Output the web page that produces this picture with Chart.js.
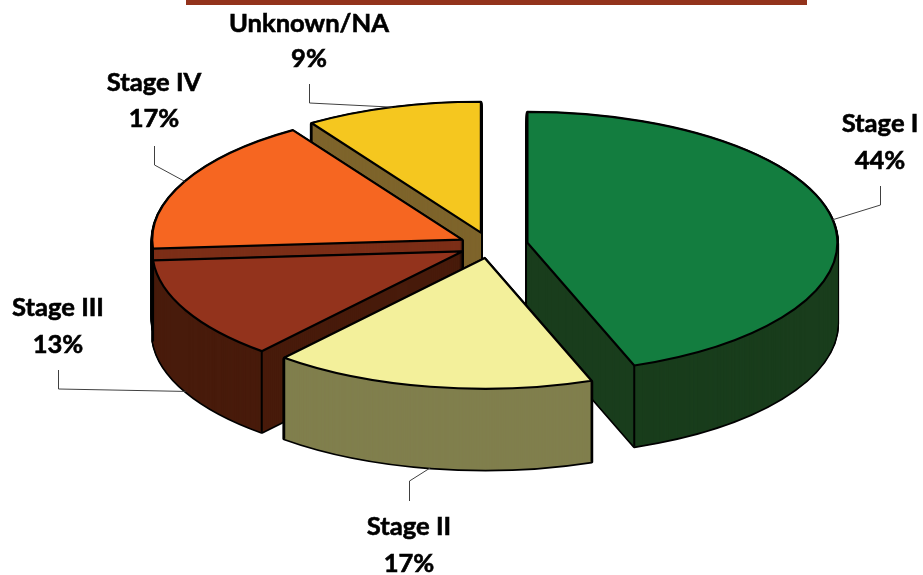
<!DOCTYPE html>
<html>
<head>
<meta charset="utf-8">
<title>Stage at diagnosis</title>
<script src="https://cdn.jsdelivr.net/npm/chart.js@4/dist/chart.umd.min.js"></script>
<style>
  html, body { margin: 0; background: #fff; }
  #wrap { position: relative; width: 923px; height: 575px; overflow: hidden; }
  #rule { position: absolute; left: 186px; top: 0; width: 621px; height: 5px; background: #93331c; }
  canvas { position: absolute; left: 0; top: 0; }
</style>
</head>
<body>
<div id="wrap">
  <canvas id="stage-chart" width="923" height="575"></canvas>
  <div id="rule"></div>
</div>
<script>
var categories = ["Stage I", "Stage II", "Stage III", "Stage IV", "Unknown/NA"];
// the labels show these rounded
var percents = [44.4, 16.8, 12.7, 16.9, 9.2];

var topColors = ["#137d3f", "#f3f09b", "#93331c", "#f66621", "#f5c71f"];
var wallColors = ["#193d1c", "#807f4d", "#481b0b", "#7c2e17", "#7e642b"];
var explode = [38, 30, 31, 31, 32];

// label block centre x, y of first line, y of second line
var labelX = [880, 409, 58, 154, 309];
var labelY1 = [124, 527, 308, 83, 24];
var labelY2 = [161, 564, 345, 119, 59];
// leader line: start just off the label, elbow
var leaderStartY = [186, 501, 370, 146, 84];
var leaderElbowY = [205, 481, 389, 165, 103];

var squash = 0.422;
var depth = 81;

function sliceShift(arc, i) {
  var mid = (arc.startAngle + arc.endAngle) / 2;
  return { x: Math.cos(mid) * explode[i], y: Math.sin(mid) * explode[i] * squash };
}

function outline(ctx, arc, shift, down) {
  var x = arc.x + shift.x, y = arc.y + shift.y + down;
  ctx.beginPath();
  ctx.moveTo(x, y);
  ctx.ellipse(x, y, arc.outerRadius, arc.outerRadius * squash, 0, arc.startAngle, arc.endAngle);
  ctx.closePath();
}

function fillArc(ctx, arc, shift, down, color) {
  var saved = arc.options;
  arc.options = Object.assign({}, saved, { backgroundColor: color, borderWidth: 0 });
  ctx.save();
  ctx.translate(shift.x, arc.y + shift.y + down);
  ctx.scale(1, squash);
  ctx.translate(0, -arc.y);
  arc.draw(ctx);
  ctx.restore();
  arc.options = saved;
}

var pie3d = {
  id: 'pie3d',
  beforeDatasetsDraw: function(chart) {
    var ctx = chart.ctx;
    var arcs = chart.getDatasetMeta(0).data;
    // paint back slices first
    var order = arcs.map(function(a, i) { return i; }).sort(function(a, b) {
      return Math.sin((arcs[a].startAngle + arcs[a].endAngle) / 2) - Math.sin((arcs[b].startAngle + arcs[b].endAngle) / 2);
    });
    ctx.save();
    ctx.lineJoin = 'round';
    ctx.strokeStyle = '#000';
    order.forEach(function(i) {
      var arc = arcs[i], shift = sliceShift(arc, i), d;
      ctx.lineWidth = 3.4;
      for (d = depth; d > 0; d--) {
        outline(ctx, arc, shift, d);
        ctx.stroke();
      }
      for (d = depth; d > 0; d--) {
        fillArc(ctx, arc, shift, d, wallColors[i]);
      }
      // vertical edges at the apex and rim corners
      ctx.lineWidth = 2;
      [arc.startAngle, arc.endAngle].forEach(function(a) {
        var x = arc.x + shift.x + Math.cos(a) * arc.outerRadius;
        var y = arc.y + shift.y + Math.sin(a) * arc.outerRadius * squash;
        ctx.beginPath();
        ctx.moveTo(x, y);
        ctx.lineTo(x, y + depth);
        ctx.stroke();
      });
      fillArc(ctx, arc, shift, 0, topColors[i]);
      ctx.lineWidth = 2.2;
      outline(ctx, arc, shift, 0);
      ctx.stroke();
    });
    ctx.restore();
    return false;
  },
  afterDraw: function(chart) {
    var ctx = chart.ctx;
    var arcs = chart.getDatasetMeta(0).data;
    ctx.save();
    ctx.strokeStyle = '#404040';
    ctx.lineWidth = 1;
    arcs.forEach(function(arc, i) {
      var shift = sliceShift(arc, i);
      var mid = (arc.startAngle + arc.endAngle) / 2;
      var endX = arc.x + shift.x + Math.cos(mid) * arc.outerRadius;
      var endY = arc.y + shift.y + Math.sin(mid) * arc.outerRadius * squash;
      if (Math.sin(mid) > 0) endY += depth;
      ctx.beginPath();
      ctx.moveTo(labelX[i] + 0.5, leaderStartY[i]);
      ctx.lineTo(labelX[i] + 0.5, leaderElbowY[i]);
      ctx.lineTo(endX, endY);
      ctx.stroke();
    });
    ctx.fillStyle = '#000';
    ctx.strokeStyle = '#000';
    ctx.lineWidth = 0.6;
    ctx.font = 'bold 25.6px Lato';
    ctx.textAlign = 'center';
    ctx.textBaseline = 'middle';
    categories.forEach(function(name, i) {
      var pct = Math.round(percents[i]) + '%';
      ctx.fillText(name, labelX[i], labelY1[i]);
      ctx.strokeText(name, labelX[i], labelY1[i]);
      ctx.fillText(pct, labelX[i], labelY2[i]);
      ctx.strokeText(pct, labelX[i], labelY2[i]);
    });
    ctx.restore();
  }
};

new Chart(document.getElementById('stage-chart'), {
  type: 'pie',
  data: {
    labels: categories,
    datasets: [{
      data: percents,
      backgroundColor: topColors,
      borderWidth: 0
    }]
  },
  options: {
    responsive: false,
    animation: false,
    radius: 310,
    layout: { padding: { left: 57, bottom: 84 } },
    plugins: {
      legend: { display: false },
      tooltip: { enabled: false }
    }
  },
  plugins: [pie3d]
});
</script>
</body>
</html>
